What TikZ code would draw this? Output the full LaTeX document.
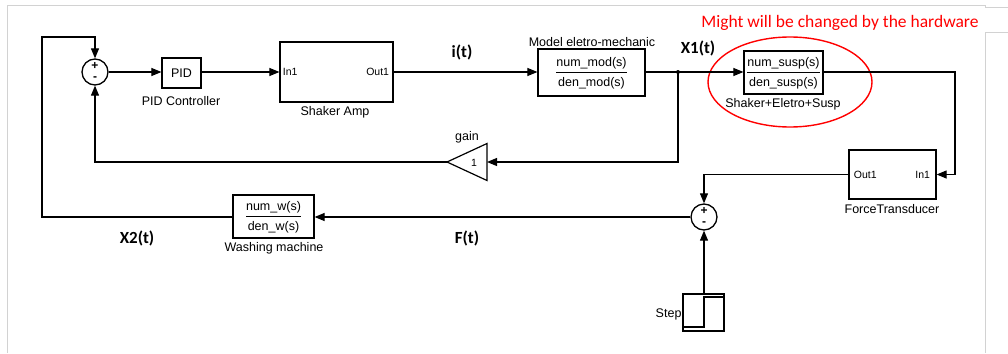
\documentclass[tikz,border=0pt]{standalone}
\usepackage{fontspec}
\setmainfont{Liberation Sans}
\newfontfamily\notefont{Carlito}
\usetikzlibrary{arrows.meta}
\begin{document}
\begin{tikzpicture}[x=1pt, y=-1pt, line width=1.1pt,
    block/.style={draw, line width=1.2pt, inner sep=0pt, font=\fontsize{12.5}{14}\selectfont},
    sumnode/.style={draw, circle, line width=1.3pt, minimum size=26pt, inner sep=0pt},
    sig/.style={-{Triangle[length=10pt,width=8pt]}},
    caption/.style={inner sep=0pt, font=\fontsize{12.5}{14}\selectfont},
    port/.style={inner sep=0pt, font=\fontsize{10.5}{12}\selectfont},
    sign/.style={inner sep=0pt, font=\bfseries\fontsize{12}{12}\selectfont},
    signal/.style={inner sep=0pt, font=\notefont\bfseries\fontsize{17}{20}\selectfont}]
    \def\tf#1#2{\renewcommand{\arraystretch}{1.45}\begin{tabular}{@{}c@{}}#1\\\hline #2\end{tabular}}
    \useasboundingbox (0,0) rectangle (1008,353);

    % Screenshot frame
    \draw[gray!35, line width=0.8pt] (7,353) -- (7,5) -- (985,5) -- (985,7) -- (1008,7);
    \draw[gray!35, line width=0.8pt] (1008,32) -- (985,32) -- (985,353);

    % Forward path
    \node[sumnode] (sumA) at (95,72) {};
    \node[block, minimum width=39pt, minimum height=30pt] (pid) at (181.5,73) {PID};
    \node[block, minimum width=113pt, minimum height=60pt] (amp) at (336.5,72) {};
    \node[block, minimum width=107pt, minimum height=47pt] (model) at (591.5,72.5) {\tf{num\_mod(s)}{den\_mod(s)}};
    \node[block, minimum width=79pt, minimum height=43pt] (susp) at (783.5,72.5) {\tf{num\_susp(s)}{den\_susp(s)}};
    \node[block, minimum width=87pt, minimum height=49pt] (ftrans) at (892.5,174.5) {};
    \node[sumnode] (sumB) at (704,217) {};
    \node[block, minimum width=81pt, minimum height=43pt] (washing) at (273.5,216.5) {\tf{num\_w(s)}{den\_w(s)}};
    \node[block, minimum width=41pt, minimum height=37pt] (step) at (703.5,312.5) {};

    % Gain block
    \coordinate (gainIn) at (487,162);
    \coordinate (gainOut) at (447,162);
    \draw[line width=1.2pt] (gainOut) -- ++(40,-18.5) -- ++(0,37) -- cycle;
    \node[port] (gainval) at (474,163) {1};

    % Ports and signs
    \node[port, anchor=west] (ampIn) at ([xshift=3pt]amp.west) {In1};
    \node[port, anchor=east] (ampOut) at ([xshift=-4pt]amp.east) {Out1};
    \node[port, anchor=west] (ftOut) at ([xshift=5pt]ftrans.west) {Out1};
    \node[port, anchor=east] (ftIn) at ([xshift=-6pt]ftrans.east) {In1};
    \node[sign] (plusA) at (95,66) {+};
    \node[sign] (minusA) at (95,79) {-};
    \node[sign] (plusB) at (704,211) {+};
    \node[sign] (minusB) at (704,224) {-};

    % Step trace
    \draw[line width=1.2pt] (683,327) -- (704,327) -- (704,297) -- (724,297);

    % Captions
    \node[caption] (pidlbl) at (181,101) {PID Controller};
    \node[caption] (amplbl) at (335,112) {Shaker Amp};
    \node[caption] (modellbl) at (592,42) {Model eletro-mechanic};
    \node[caption] (susplbl) at (783,104) {Shaker+Eletro+Susp};
    \node[caption] (ftranslbl) at (892,209) {ForceTransducer};
    \node[caption] (washlbl) at (274,248) {Washing machine};
    \node[caption, anchor=east] (steplbl) at (682,314) {Step};
    \node[caption] (gainlbl) at (467,137) {gain};

    % Signal names
    \node[signal] (it) at (462,52) {i(t)};
    \node[signal] (xone) at (698,48) {X1(t)};
    \node[signal] (xtwo) at (137,238) {X2(t)};
    \node[signal] (ft) at (467,238) {F(t)};

    % Hardware note
    \draw[red, line width=1.4pt] (790,82) ellipse (82 and 45);
    \node[inner sep=0pt, text=red, font=\notefont\fontsize{17.5}{20}\selectfont] (note) at (840,23) {Might will be changed by the hardware};

    % Connectors
    \coordinate (br) at (678,72);
    \coordinate (cornerR) at (955,72);
    \coordinate (topL) at (42,37);
    \draw[sig] (sumA.east) -- (pid.west |- sumA.east);
    \draw[sig] (pid.east |- sumA.east) -- (amp.west |- sumA.east);
    \draw[sig] (amp.east) -- (model.west |- amp.east);
    \draw[sig] (model.east |- br) -- (susp.west |- br);
    \fill (br) circle (2pt);
    \draw[sig] (susp.east |- br) -- (cornerR) |- (ftrans.east);
    \draw[sig] (ftrans.west) -| (sumB.north);
    \draw[sig] (step.north -| sumB) -- (sumB.south);
    \draw[sig] (sumB.west) -- (washing.east |- sumB.west);
    \draw[sig] (washing.west |- sumB.west) -| (topL) -| (sumA.north);
    \draw[sig] (br) |- (gainIn);
    \draw[sig] (gainOut) -| (sumA.south);
\end{tikzpicture}
\end{document}
